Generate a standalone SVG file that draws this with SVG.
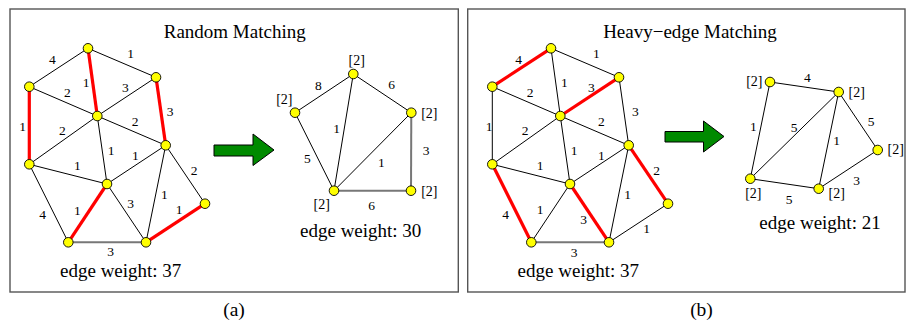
<svg xmlns="http://www.w3.org/2000/svg" width="906" height="324" viewBox="0 0 906 324">
<style>
.box{fill:none;stroke:#555;stroke-width:1.4}
.e{stroke:#000;stroke-width:1;fill:none}
.r{stroke:#f00;stroke-width:3.2;fill:none}
.g{stroke:#777;stroke-width:2;fill:none}
.n{fill:#ff0;stroke:#000;stroke-width:0.9}
.w{font-family:"Liberation Serif",serif;font-size:13.5px;text-anchor:middle;fill:#000}
.v{font-family:"Liberation Serif",serif;font-size:14px;text-anchor:middle;fill:#000}
.t{font-family:"Liberation Serif",serif;font-size:19px;text-anchor:middle;fill:#000}
.c{font-family:"Liberation Serif",serif;font-size:19.5px;text-anchor:middle;fill:#000}
.arr{fill:#008a00;stroke:#000;stroke-width:1}
</style>
<rect class="box" x="10" y="9" width="448.3" height="283"/>
<rect class="box" x="467.7" y="9" width="437.3" height="283"/>
<text class="t" x="234.7" y="38">Random Matching</text>
<text class="t" x="690" y="38">Heavy−edge Matching</text>
<text class="c" x="234" y="316">(a)</text>
<text class="c" x="701.5" y="316">(b)</text>
<polygon class="arr" points="214,145 253,145 253,134 274,150 253,165.5 253,156 214,156"/>
<polygon class="arr" points="665,131.5 703.5,131.5 703.5,121 724,136.5 703.5,152 703.5,142 665,142"/>
<g id="connectors">
<!-- left main graph -->
<line class="e" x1="88" y1="48.3" x2="29.3" y2="86.7"/>
<line class="e" x1="88" y1="48.3" x2="156" y2="77.3"/>
<line class="e" x1="29.3" y1="86.7" x2="97.3" y2="116"/>
<line class="e" x1="97.3" y1="116" x2="156" y2="77.3"/>
<line class="e" x1="97.3" y1="116" x2="29.3" y2="164.3"/>
<line class="e" x1="97.3" y1="116" x2="165.7" y2="145.3"/>
<line class="e" x1="97.3" y1="116" x2="107" y2="184"/>
<line class="e" x1="29.3" y1="164.3" x2="107" y2="184"/>
<line class="e" x1="107" y1="184" x2="165.7" y2="145.3"/>
<line class="e" x1="165.7" y1="145.3" x2="205" y2="203.7"/>
<line class="e" x1="165.7" y1="145.3" x2="146" y2="242.3"/>
<line class="e" x1="107" y1="184" x2="146" y2="242.3"/>
<line class="e" x1="29.3" y1="164.3" x2="68.3" y2="242.3"/>
<line class="g" x1="68.3" y1="242.3" x2="146" y2="242.3"/>
<line class="r" x1="88" y1="48.3" x2="97.3" y2="116"/>
<line class="r" x1="156" y1="77.3" x2="165.7" y2="145.3"/>
<line class="r" x1="29.3" y1="86.7" x2="29.3" y2="164.3"/>
<line class="r" x1="107" y1="184" x2="68.3" y2="242.3"/>
<line class="r" x1="146" y1="242.3" x2="205" y2="203.7"/>
<!-- left small graph -->
<line class="e" x1="295" y1="112.7" x2="353.3" y2="74"/>
<line class="e" x1="353.3" y1="74" x2="411.3" y2="112.7"/>
<line class="e" x1="295" y1="112.7" x2="334" y2="190.7"/>
<line class="e" x1="353.3" y1="74" x2="334" y2="190.7"/>
<line class="e" x1="411.3" y1="112.7" x2="334" y2="190.7"/>
<line class="g" x1="411.3" y1="112.7" x2="411" y2="190.7"/>
<line class="g" x1="334" y1="190.7" x2="411" y2="190.7"/>
<!-- right main graph -->
<line class="e" x1="551" y1="48.3" x2="619" y2="77.3"/>
<line class="e" x1="551" y1="48.3" x2="560.3" y2="116"/>
<line class="e" x1="492.3" y1="86.7" x2="560.3" y2="116"/>
<line class="e" x1="492.3" y1="86.7" x2="492.3" y2="164.3"/>
<line class="e" x1="619" y1="77.3" x2="628.7" y2="145.3"/>
<line class="e" x1="560.3" y1="116" x2="492.3" y2="164.3"/>
<line class="e" x1="560.3" y1="116" x2="628.7" y2="145.3"/>
<line class="e" x1="560.3" y1="116" x2="570" y2="184"/>
<line class="e" x1="492.3" y1="164.3" x2="570" y2="184"/>
<line class="e" x1="570" y1="184" x2="628.7" y2="145.3"/>
<line class="e" x1="628.7" y1="145.3" x2="609" y2="242.3"/>
<line class="e" x1="570" y1="184" x2="531.3" y2="242.3"/>
<line class="e" x1="609" y1="242.3" x2="668" y2="203.7"/>
<line class="g" x1="531.3" y1="242.3" x2="609" y2="242.3"/>
<line class="r" x1="551" y1="48.3" x2="492.3" y2="86.7"/>
<line class="r" x1="560.3" y1="116" x2="619" y2="77.3"/>
<line class="r" x1="628.7" y1="145.3" x2="668" y2="203.7"/>
<line class="r" x1="570" y1="184" x2="609" y2="242.3"/>
<line class="r" x1="492.3" y1="164.3" x2="531.3" y2="242.3"/>
<!-- right small graph -->
<line class="e" x1="770" y1="82" x2="838.7" y2="92"/>
<line class="e" x1="770" y1="82" x2="750.3" y2="178.7"/>
<line class="e" x1="750.3" y1="178.7" x2="838.7" y2="92"/>
<line class="e" x1="838.7" y1="92" x2="818.7" y2="188.7"/>
<line class="e" x1="838.7" y1="92" x2="877.7" y2="150"/>
<line class="e" x1="877.7" y1="150" x2="818.7" y2="188.7"/>
<line class="e" x1="750.3" y1="178.7" x2="818.7" y2="188.7"/>
</g>
<g id="edge-labels">
<text class="w" x="52.3" y="64">4</text>
<text class="w" x="130.7" y="58">1</text>
<text class="w" x="86" y="87.3">1</text>
<text class="w" x="67.3" y="97.3">2</text>
<text class="w" x="125.3" y="92">3</text>
<text class="w" x="170" y="115.6">3</text>
<text class="w" x="22.7" y="131.3">1</text>
<text class="w" x="62.3" y="135.3">2</text>
<text class="w" x="135" y="125.6">2</text>
<text class="w" x="111" y="154.6">1</text>
<text class="w" x="135.3" y="160">1</text>
<text class="w" x="77.3" y="169.6">1</text>
<text class="w" x="194" y="174.6">2</text>
<text class="w" x="164.3" y="198.6">1</text>
<text class="w" x="130.7" y="208">3</text>
<text class="w" x="77.3" y="214.6">1</text>
<text class="w" x="179" y="214">1</text>
<text class="w" x="42.7" y="218.6">4</text>
<text class="w" x="110.7" y="256.3">3</text>
<text class="w" x="318.3" y="90.3">8</text>
<text class="w" x="391.7" y="89">6</text>
<text class="w" x="336.7" y="133.3">1</text>
<text class="w" x="307.3" y="163">5</text>
<text class="w" x="381.3" y="167.3">1</text>
<text class="w" x="426" y="155.3">3</text>
<text class="w" x="371.7" y="210">6</text>
<text class="w" x="518.7" y="64">4</text>
<text class="w" x="596.3" y="58">1</text>
<text class="w" x="564.3" y="87">1</text>
<text class="w" x="591.3" y="92">3</text>
<text class="w" x="530" y="97.3">2</text>
<text class="w" x="635.3" y="115.6">3</text>
<text class="w" x="489" y="131.3">1</text>
<text class="w" x="525" y="135.3">2</text>
<text class="w" x="601.3" y="125.6">2</text>
<text class="w" x="574" y="154.6">1</text>
<text class="w" x="601.3" y="160">1</text>
<text class="w" x="540" y="169.6">1</text>
<text class="w" x="656.7" y="175.3">2</text>
<text class="w" x="627.7" y="198.6">1</text>
<text class="w" x="540" y="214">1</text>
<text class="w" x="505.7" y="218.6">4</text>
<text class="w" x="583.7" y="224">3</text>
<text class="w" x="646.7" y="233.3">1</text>
<text class="w" x="574" y="257.3">3</text>
<text class="w" x="807.3" y="82">4</text>
<text class="w" x="753.3" y="131.3">1</text>
<text class="w" x="794" y="132.3">5</text>
<text class="w" x="871" y="125.6">5</text>
<text class="w" x="836.7" y="145.3">1</text>
<text class="w" x="856.7" y="184.6">3</text>
<text class="w" x="789" y="204">5</text>
</g>
<g id="n-a1"><circle class="n" cx="88" cy="48.3" r="4.8"/></g>
<g id="n-b1"><circle class="n" cx="156" cy="77.3" r="4.8"/></g>
<g id="n-c1"><circle class="n" cx="29.3" cy="86.7" r="4.8"/></g>
<g id="n-d1"><circle class="n" cx="97.3" cy="116" r="4.8"/></g>
<g id="n-e1"><circle class="n" cx="165.7" cy="145.3" r="4.8"/></g>
<g id="n-f1"><circle class="n" cx="29.3" cy="164.3" r="4.8"/></g>
<g id="n-g1"><circle class="n" cx="107" cy="184" r="4.8"/></g>
<g id="n-h1"><circle class="n" cx="205" cy="203.7" r="4.8"/></g>
<g id="n-i1"><circle class="n" cx="68.3" cy="242.3" r="4.8"/></g>
<g id="n-j1"><circle class="n" cx="146" cy="242.3" r="4.8"/></g>
<g id="n-p"><circle class="n" cx="353.3" cy="74" r="4.8"/><text class="v" x="356.7" y="64.5">[2]</text></g>
<g id="n-q"><circle class="n" cx="295" cy="112.7" r="4.8"/><text class="v" x="284.3" y="103.5">[2]</text></g>
<g id="n-r"><circle class="n" cx="411.3" cy="112.7" r="4.8"/><text class="v" x="429.3" y="117.5">[2]</text></g>
<g id="n-s"><circle class="n" cx="334" cy="190.7" r="4.8"/><text class="v" x="321.7" y="208.8">[2]</text></g>
<g id="n-t"><circle class="n" cx="411" cy="190.7" r="4.8"/><text class="v" x="429.3" y="196.2">[2]</text></g>
<g id="n-a2"><circle class="n" cx="551" cy="48.3" r="4.8"/></g>
<g id="n-b2"><circle class="n" cx="619" cy="77.3" r="4.8"/></g>
<g id="n-c2"><circle class="n" cx="492.3" cy="86.7" r="4.8"/></g>
<g id="n-d2"><circle class="n" cx="560.3" cy="116" r="4.8"/></g>
<g id="n-e2"><circle class="n" cx="628.7" cy="145.3" r="4.8"/></g>
<g id="n-f2"><circle class="n" cx="492.3" cy="164.3" r="4.8"/></g>
<g id="n-g2"><circle class="n" cx="570" cy="184" r="4.8"/></g>
<g id="n-h2"><circle class="n" cx="668" cy="203.7" r="4.8"/></g>
<g id="n-i2"><circle class="n" cx="531.3" cy="242.3" r="4.8"/></g>
<g id="n-j2"><circle class="n" cx="609" cy="242.3" r="4.8"/></g>
<g id="n-u"><circle class="n" cx="770" cy="82" r="4.8"/><text class="v" x="754.3" y="86.2">[2]</text></g>
<g id="n-v"><circle class="n" cx="838.7" cy="92" r="4.8"/><text class="v" x="856.7" y="96.8">[2]</text></g>
<g id="n-w"><circle class="n" cx="877.7" cy="150" r="4.8"/><text class="v" x="895.7" y="154.2">[2]</text></g>
<g id="n-x"><circle class="n" cx="750.3" cy="178.7" r="4.8"/><text class="v" x="753.3" y="197.5">[2]</text></g>
<g id="n-y"><circle class="n" cx="818.7" cy="188.7" r="4.8"/><text class="v" x="836.7" y="197.5">[2]</text></g>
<text class="t" x="120.7" y="276.7">edge weight: 37</text>
<text class="t" x="578.3" y="276.7">edge weight: 37</text>
<text class="t" x="360.7" y="236.7">edge weight: 30</text>
<text class="t" x="820" y="229.4">edge weight: 21</text>
</svg>
